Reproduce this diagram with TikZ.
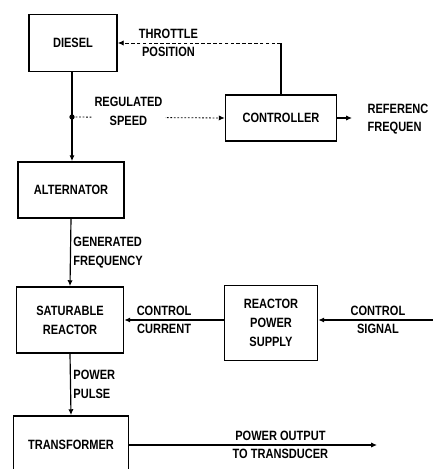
\documentclass[tikz,border=0pt]{standalone}
\usepackage{fontspec}
\setmainfont[FakeStretch=0.82]{Liberation Sans}
\usetikzlibrary{arrows.meta,positioning,calc}
\tikzset{
  blk/.style={draw, line width=1.5pt, align=center, inner sep=2pt},
  %% signal lines
  sig/.style={-{Latex[length=5pt,width=4.5pt]}, line width=1pt},
  sigdash/.style={sig, line width=0.7pt, dash pattern=on 3pt off 2pt},
  sigdot/.style={sig, line width=0.7pt, dash pattern=on 1.5pt off 1.5pt},
  %% labels
  lbl/.style={align=left, inner sep=2pt},
  jdot/.style={circle, fill, inner sep=0pt, minimum size=4.5pt},
}
\begin{document}
\begin{tikzpicture}[x=0.03cm, y=-0.03cm, font=\fontsize{11.5}{16}\selectfont\bfseries]
\path[use as bounding box, clip] (0,0) rectangle (433,469);

%% Blocks
\node[blk, minimum width=2.64cm, minimum height=1.71cm] (diesel)      at ( 73, 43)  {DIESEL};
\node[blk, minimum width=3.33cm, minimum height=1.38cm] (controller)  at (281,118)  {CONTROLLER};
\node[blk, minimum width=3.18cm, minimum height=1.68cm] (alternator)  at ( 71,190)  {ALTERNATOR};
\node[blk, minimum width=3.21cm, minimum height=1.98cm] (saturable)   at ( 70,320)  {SATURABLE\\REACTOR};
\node[blk, minimum width=2.79cm, minimum height=2.25cm] (supply)      at (271,323)  {REACTOR\\POWER\\SUPPLY};
\node[blk, minimum width=3.45cm, minimum height=1.74cm] (transformer) at ( 71,445)  {TRANSFORMER};

\coordinate (jspeed) at (72,117);
\coordinate (thcorner) at (controller.north |- diesel.east);
\coordinate (refout) at (352,118);
\coordinate (sigin)  at (433,320);
\coordinate (powout) at (377,445);

%% Connectors
\draw[line width=0.9pt] (controller.north) -- (thcorner);
\draw[sigdash] (thcorner) -- node[above, pos=0.69]{THROTTLE}
                             node[below, pos=0.69]{POSITION} (diesel.east);
\draw[line width=1pt] (diesel.south -| jspeed) -- (jspeed);
\draw[sig] (jspeed) -- (alternator.north -| jspeed);
\node[jdot] at (jspeed) {};
\draw[sigdot] (jspeed) -- node[lbl, fill=white, align=center, pos=0.37, yshift=0.18cm]{REGULATED\\SPEED} (controller.west);
\draw[sig] (controller.east) -- (refout);
\node[lbl, anchor=west] (reflbl) at (365,119) {REFERENC\\FREQUEN};

\draw[sig] (alternator.south) -- node[lbl, right, pos=0.5]{GENERATED\\FREQUENCY} (saturable.north);
\draw[sig] (saturable.east -| supply.west) -- node[above, pos=0.6]{CONTROL}
                                             node[below, pos=0.6]{CURRENT} (saturable.east);
\draw[sig] (sigin) -- node[above, pos=0.48]{CONTROL}
                      node[below, pos=0.48]{SIGNAL} (sigin -| supply.east);

\draw[sig] (saturable.south) -- node[lbl, right, pos=0.5]{POWER\\PULSE} (transformer.north);
\draw[sig] (transformer.east) -- node[above, pos=0.61]{POWER OUTPUT}
                                 node[below, pos=0.61]{TO TRANSDUCER} (powout);

\end{tikzpicture}
\end{document}
